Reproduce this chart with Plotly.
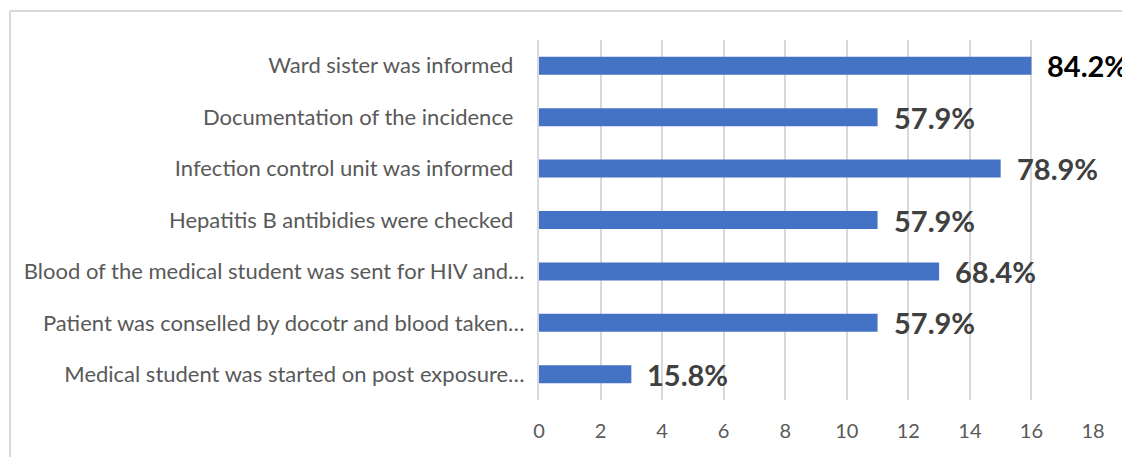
import plotly.graph_objects as go

categories = [
    "Ward sister was informed",
    "Documentation of the incidence",
    "Infection control unit was informed",
    "Hepatitis B antibidies were checked",
    "Blood of the medical student was sent for HIV and…",
    "Patient was conselled by docotr and blood taken…",
    "Medical student was started on post exposure…",
]
counts = [16, 11, 15, 11, 13, 11, 3]
percent_labels = ["84.2%", "57.9%", "78.9%", "57.9%", "68.4%", "57.9%", "15.8%"]
label_colors = ["#000000", "#404040", "#404040", "#404040", "#404040", "#404040", "#404040"]
x_ticks = [0, 2, 4, 6, 8, 10, 12, 14, 16, 18]

W, H = 1122, 457
L, R, T, B = 539, 29, 40, 57

tick_text = [c if c.endswith("…") else c + "\u00a0" * 2 for c in categories]

fig = go.Figure()
fig.add_trace(go.Bar(
    x=counts, y=categories, orientation="h",
    marker=dict(color="#4472C4", line=dict(width=0)),
    hoverinfo="skip",
))

for c, v, t, col in zip(categories, counts, percent_labels, label_colors):
    fig.add_annotation(x=v, y=c, text=t, showarrow=False, xanchor="left",
                       yanchor="middle", xshift=14,
                       font=dict(family="Lato", size=29, color=col, weight="bold"))

pw = W - L - R
ph = H - T - B
def px_x(p):
    return (p - L) / pw
def px_y(p):
    return (H - B - p) / ph

# chart-area border (top and left edges visible in the reference crop)
border = dict(color="#d9d9d9", width=2)
fig.add_shape(type="line", xref="paper", yref="paper",
              x0=px_x(10), x1=px_x(1130), y0=px_y(11), y1=px_y(11),
              line=border, layer="below")
fig.add_shape(type="line", xref="paper", yref="paper",
              x0=px_x(10), x1=px_x(10), y0=px_y(11), y1=px_y(470),
              line=border, layer="below")

fig.update_layout(
    width=W, height=H,
    margin=dict(l=L, r=R, t=T, b=B, pad=0),
    paper_bgcolor="white", plot_bgcolor="white",
    bargap=0.65, showlegend=False,
    font=dict(family="Lato", color="#595959"),
    xaxis=dict(range=[0, 18], tickvals=x_ticks, showgrid=True,
               gridcolor="#d9d9d9", gridwidth=2, zeroline=False,
               showline=False, ticks="", tickfont=dict(size=20, color="#595959"),
               ticklabelstandoff=17, fixedrange=True),
    yaxis=dict(autorange="reversed", tickvals=categories, ticktext=tick_text,
               showgrid=False, zeroline=False, showline=True,
               linecolor="#d9d9d9", linewidth=2, ticks="",
               tickfont=dict(size=22, color="#595959"),
               ticklabelstandoff=8, fixedrange=True),
)

fig.write_html(
    "out.html",
    config={"displayModeBar": False},
    post_script="document.body.style.margin='0';document.body.style.overflow='hidden';",
)
